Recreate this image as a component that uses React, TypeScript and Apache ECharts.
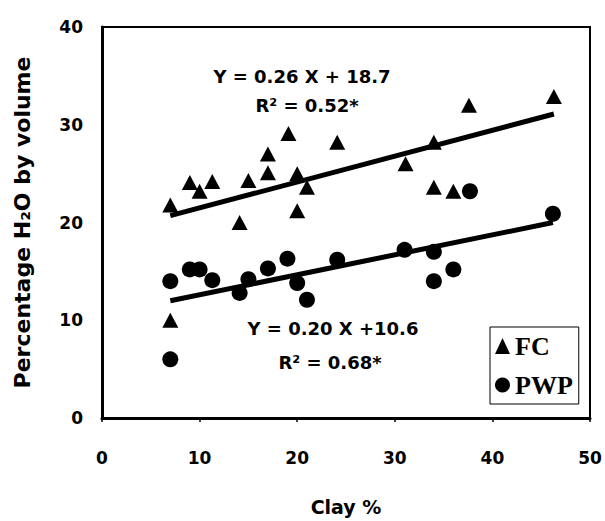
import React, { useEffect, useRef } from "react";
import * as echarts from "echarts";

// Field capacity (FC) points: [clay %, % H2O by volume]
const fcPoints: number[][] = [
  [7, 21.8], [7, 10], [9, 24.1], [10, 23.2], [11.3, 24.2], [14.1, 20],
  [15, 24.3], [17, 25.1], [17, 27], [19.1, 29.1], [20, 25], [20, 21.2],
  [21, 23.6], [24.1, 28.2], [31.1, 26], [34, 28.2], [34, 23.6], [36, 23.2],
  [37.6, 32], [46.3, 32.9],
];
// Permanent wilting point (PWP) points
const pwpPoints: number[][] = [
  [7, 14], [7, 6], [9, 15.2], [10, 15.2], [11.3, 14.1], [14.1, 12.8],
  [15, 14.2], [17, 15.3], [19, 16.3], [20, 13.8], [21, 12.1], [24.1, 16.2],
  [31, 17.2], [34, 17], [34, 14], [36, 15.2], [37.7, 23.2], [46.2, 20.9],
];
// Fitted lines (end points)
const fcFit: number[][] = [[7, 20.7], [46.3, 31.1]];
const pwpFit: number[][] = [[7, 12.0], [46.2, 20.0]];

const xTicks = [0, 10, 20, 30, 40, 50];
const yTicks = [0, 10, 20, 30, 40];

const fcEquation = "Y = 0.26 X + 18.7";
const fcR2 = "R² = 0.52*";
const pwpEquation = "Y = 0.20 X +10.6";
const pwpR2 = "R² = 0.68*";

const SANS = "'DejaVu Sans', sans-serif";
const SERIF = "'Liberation Serif', 'DejaVu Serif', serif";

export default function App() {
  const ref = useRef<HTMLDivElement>(null);
  useEffect(() => {
    document.body.style.margin = "0";
    if (!ref.current) return;
    const chart = echarts.init(ref.current, undefined, { renderer: "svg" });
    const textStyle = { fontFamily: SANS, fontWeight: "bold" as const, fontSize: 18, fill: "#000" };
    chart.setOption({
      animation: false,
      backgroundColor: "#fff",
      grid: {
        left: 102, top: 27, right: 15, bottom: 102,
        show: true, borderColor: "#000", borderWidth: 2, backgroundColor: "transparent",
      },
      xAxis: {
        type: "value", min: xTicks[0], max: xTicks[xTicks.length - 1], interval: 10,
        splitLine: { show: false },
        axisLine: { show: true, lineStyle: { color: "#000", width: 3 } },
        axisTick: { show: true, length: 4, lineStyle: { color: "#000", width: 1.5 } },
        axisLabel: { color: "#000", fontFamily: SANS, fontWeight: "bold", fontSize: 17, margin: 31 },
        name: "Clay %", nameLocation: "middle", nameGap: 79,
        nameTextStyle: { color: "#000", fontFamily: SANS, fontWeight: "bold", fontSize: 19 },
      },
      yAxis: {
        type: "value", min: yTicks[0], max: yTicks[yTicks.length - 1], interval: 10,
        splitLine: { show: false },
        axisLine: { show: true, lineStyle: { color: "#000", width: 3 } },
        axisTick: { show: false },
        axisLabel: { color: "#000", fontFamily: SANS, fontWeight: "bold", fontSize: 17, margin: 19 },
        name: "Percentage H₂O by volume", nameLocation: "middle", nameGap: 69,
        nameTextStyle: { color: "#000", fontFamily: SANS, fontWeight: "bold", fontSize: 22 },
      },
      legend: {
        data: ["FC", "PWP"], orient: "vertical", left: 490, top: 327,
        itemWidth: 15, itemHeight: 16, itemGap: 13,
        padding: [6, 6, 6, 5],
        borderColor: "#000", borderWidth: 1, backgroundColor: "#fff",
        textStyle: { color: "#000", fontFamily: SERIF, fontWeight: "bold", fontSize: 26 },
      },
      series: [
        {
          name: "FC fit", type: "line", data: fcFit, symbol: "none",
          lineStyle: { color: "#000", width: 5 }, z: 2, silent: true,
        },
        {
          name: "PWP fit", type: "line", data: pwpFit, symbol: "none",
          lineStyle: { color: "#000", width: 5 }, z: 2, silent: true,
        },
        {
          name: "FC", type: "scatter", data: fcPoints, symbol: "triangle", symbolSize: [16, 15],
          itemStyle: { color: "#000", opacity: 1 }, z: 3,
        },
        {
          name: "PWP", type: "scatter", data: pwpPoints, symbol: "circle", symbolSize: 16,
          itemStyle: { color: "#000", opacity: 1 }, z: 3,
        },
      ],
      graphic: [
        { type: "text", x: 302, y: 76, style: { ...textStyle, text: fcEquation, align: "center", verticalAlign: "middle" } },
        { type: "text", x: 307, y: 105, style: { ...textStyle, text: fcR2, align: "center", verticalAlign: "middle" } },
        { type: "text", x: 333, y: 328, style: { ...textStyle, text: pwpEquation, align: "center", verticalAlign: "middle" } },
        { type: "text", x: 330, y: 362, style: { ...textStyle, text: pwpR2, align: "center", verticalAlign: "middle" } },
      ],
    });
    return () => chart.dispose();
  }, []);
  return <div ref={ref} style={{ width: 605, height: 521 }} />;
}
